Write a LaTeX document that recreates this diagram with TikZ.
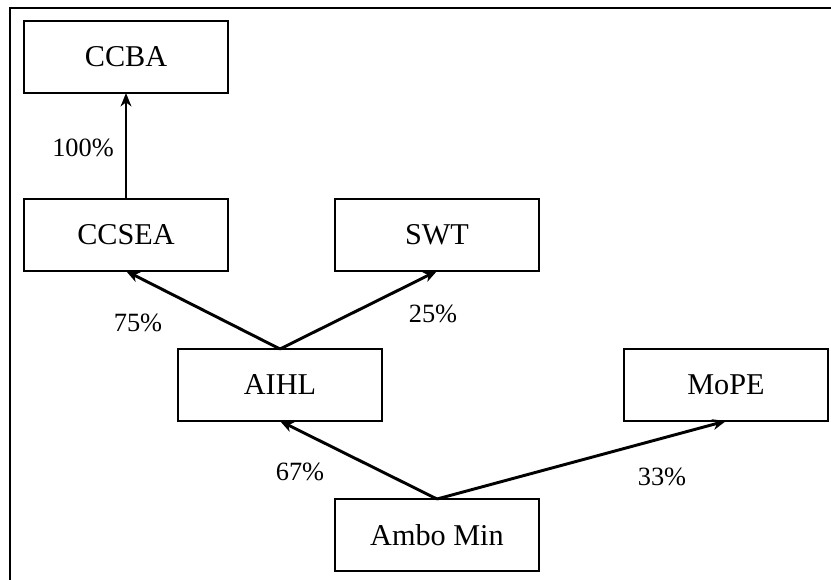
\documentclass[tikz,border=0pt]{standalone}
\usepackage{fontspec}
\setmainfont{Liberation Serif}
\usetikzlibrary{arrows.meta, positioning}

\begin{document}
\begin{tikzpicture}[
    x=0.03cm, y=-0.03cm,
    box/.style={draw, line width=1.6pt, minimum width=6.12cm, minimum height=2.16cm,
                inner sep=0pt, outer sep=0pt, align=center,
                font=\fontsize{25.8pt}{30pt}\selectfont},
    arrow/.style={-{Stealth[length=4mm, width=3.2mm, inset=1.2mm]}, line width=2.5pt},
    lbl/.style={font=\fontsize{22.5pt}{26pt}\selectfont, inner sep=0pt},
]
\useasboundingbox (0,0) rectangle (831,579);
\begin{scope}
\clip (0,0) rectangle (831,579);
\draw[line width=2.2pt] (10,8) rectangle (850,600);
\end{scope}

% owners, top to bottom
\node[box] (ccba)  at (126,57)  {CCBA};
\node[box] (ccsea) at (126,235) {CCSEA};
\node[box] (swt)   at (437,235) {SWT};
\node[box] (aihl)  at (280,385) {AIHL};
\node[box] (mope)  at (726,385) {MoPE};
\node[box] (ambo)  at (437,535) {Ambo Min};

\draw[arrow] (ccsea.north) -- (ccba.south);
\draw[arrow] (aihl.north)  -- (ccsea.south);
\draw[arrow] (aihl.north)  -- (swt.south);
\draw[arrow] (ambo.north)  -- (aihl.south);
\draw[arrow] (ambo.north)  -- (mope.south);

% shares
\node[lbl] (p100) at (83,148)  {100\%};
\node[lbl] (p75)  at (138,323) {75\%};
\node[lbl] (p25)  at (433,314) {25\%};
\node[lbl] (p67)  at (300,472) {67\%};
\node[lbl] (p33)  at (662,477) {33\%};
\end{tikzpicture}
\end{document}
